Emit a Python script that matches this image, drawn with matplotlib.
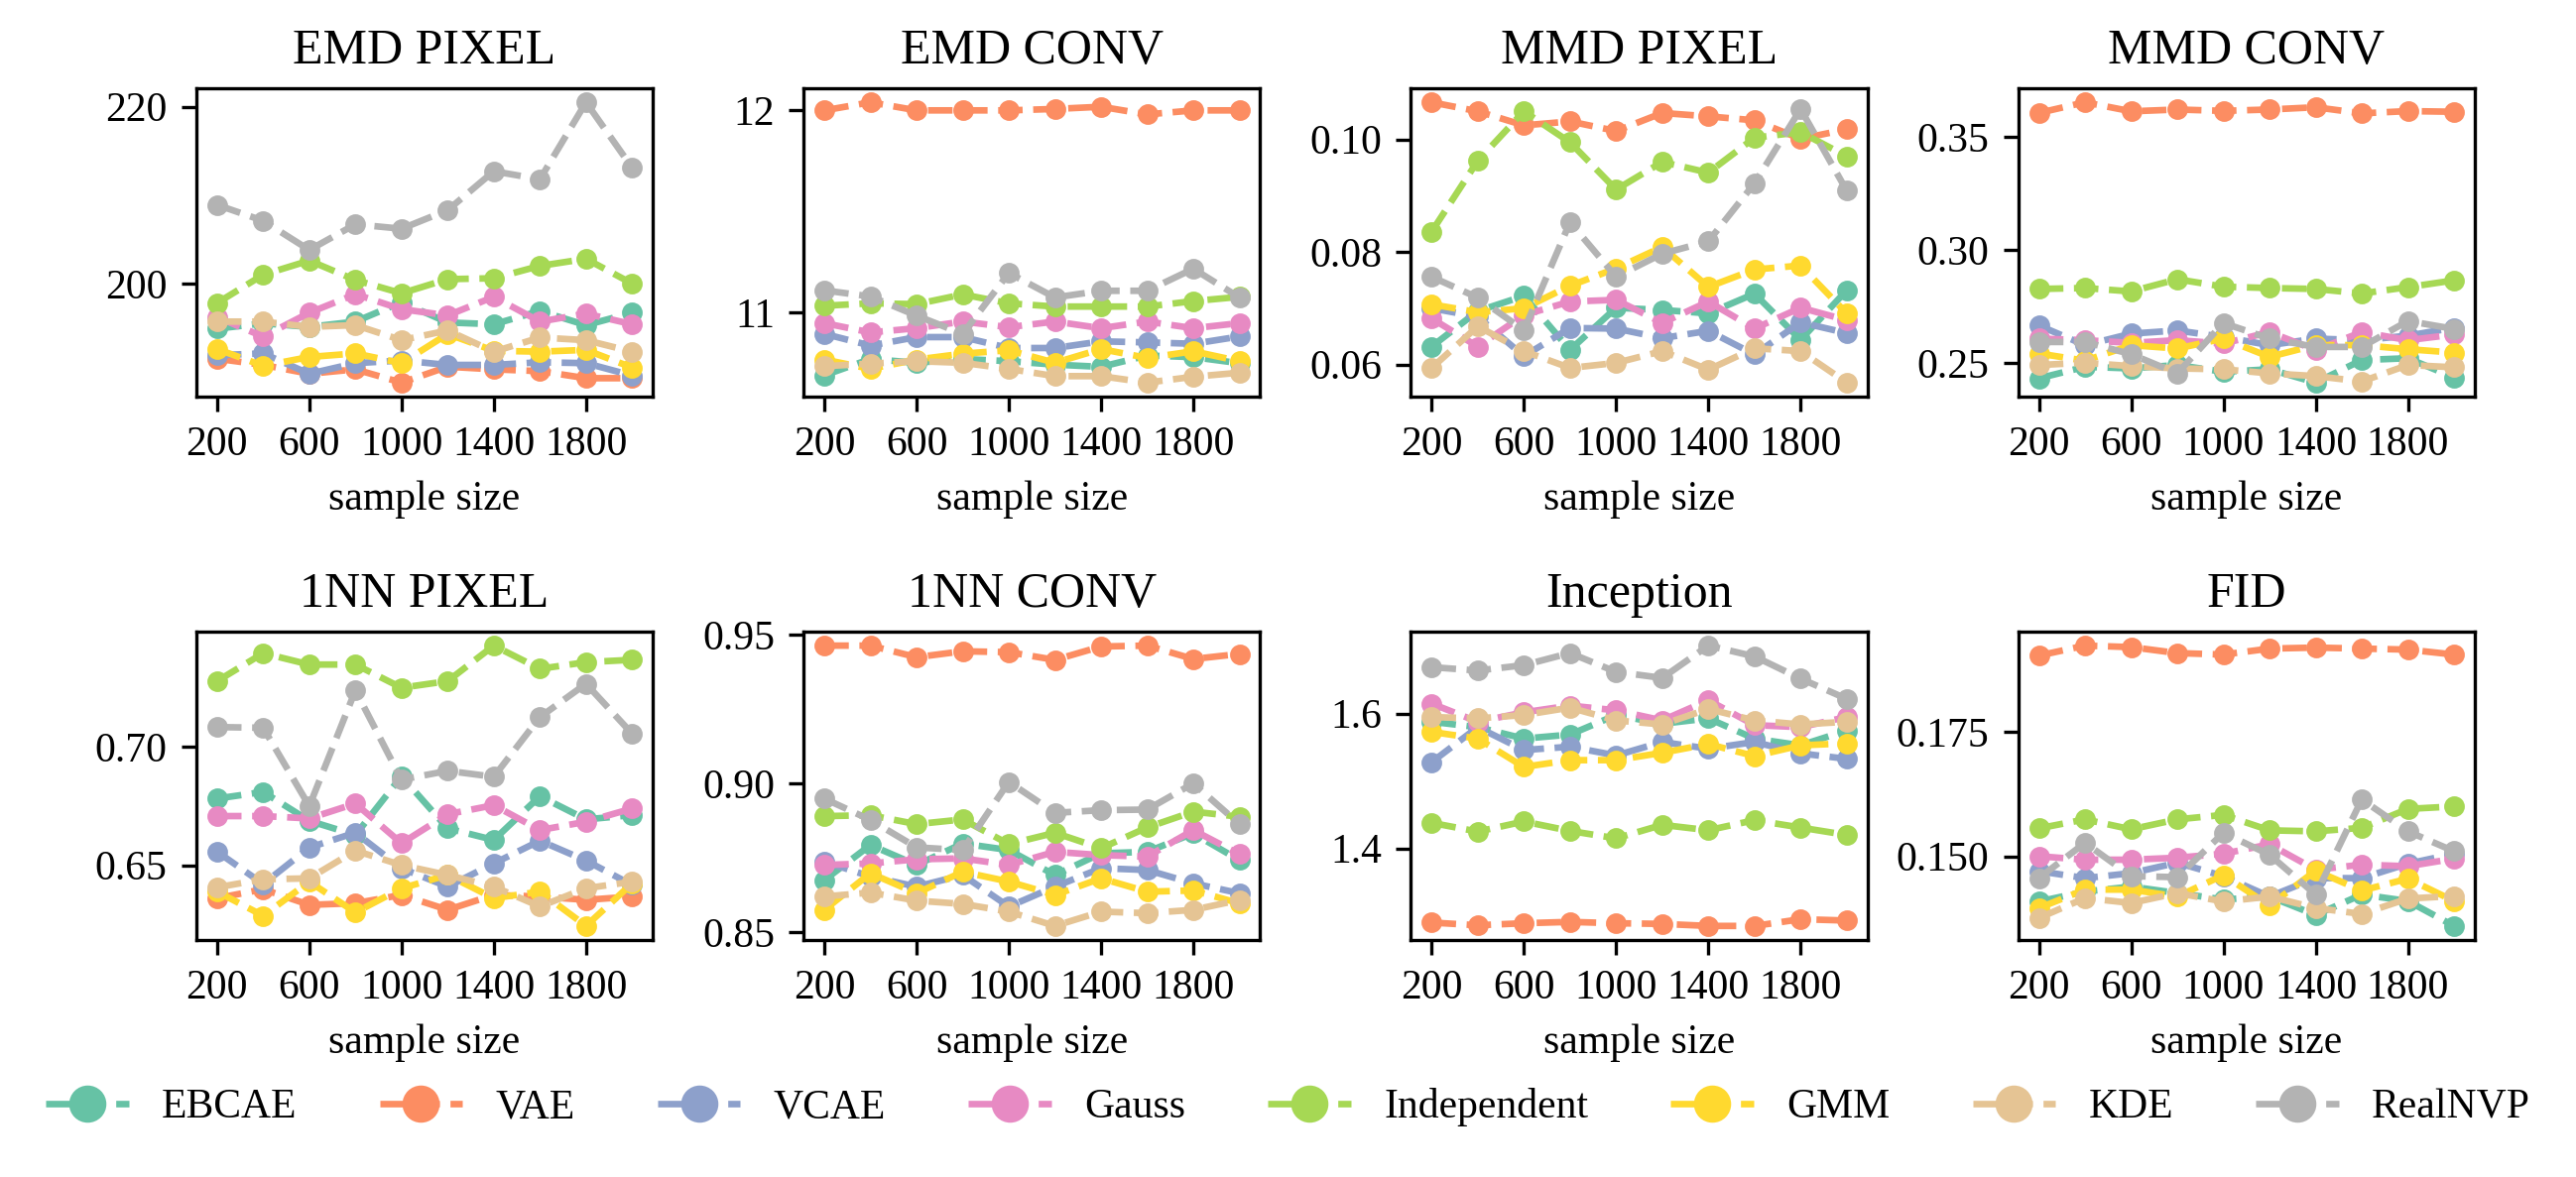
import matplotlib
matplotlib.use('Agg')
import matplotlib.pyplot as plt

plt.rcParams['font.family'] = 'Liberation Serif'
plt.rcParams['font.size'] = 10

sample_sizes = [200, 400, 600, 800, 1000, 1200, 1400, 1600, 1800, 2000]
methods = ['EBCAE', 'VAE', 'VCAE', 'Gauss', 'Independent', 'GMM', 'KDE', 'RealNVP']
colors = ['#66c2a5', '#fc8d62', '#8da0cb', '#e78ac3', '#a6d854', '#ffd92f', '#e5c494', '#b3b3b3']

# one row per method, same order as `methods`
emd_pixel = [
    [194.9, 195.5, 195.1, 195.7, 197.9, 195.6, 195.4, 196.9, 195.3, 196.7],
    [191.5, 190.8, 189.8, 190.3, 188.8, 190.6, 190.3, 190.1, 189.3, 189.3],
    [191.9, 192.1, 189.8, 191.0, 191.3, 190.8, 190.8, 191.1, 191.0, 189.6],
    [196.2, 194.0, 196.7, 198.8, 197.1, 196.4, 198.5, 195.7, 196.6, 195.4],
    [197.8, 201.0, 202.6, 200.4, 198.9, 200.5, 200.6, 202.0, 202.8, 200.0],
    [192.6, 190.7, 191.7, 192.1, 191.0, 194.3, 192.4, 192.3, 192.5, 190.5],
    [195.7, 195.7, 195.1, 195.3, 193.6, 194.7, 192.3, 193.9, 193.6, 192.3],
    [208.9, 207.1, 203.8, 206.7, 206.2, 208.3, 212.7, 211.8, 220.5, 213.1],
]
emd_conv = [
    [10.69, 10.771, 10.752, 10.771, 10.76, 10.743, 10.732, 10.788, 10.78, 10.75],
    [12.0, 12.04, 12.0, 12.0, 12.0, 12.007, 12.018, 11.98, 12.0, 12.0],
    [10.895, 10.837, 10.879, 10.879, 10.825, 10.825, 10.858, 10.853, 10.846, 10.882],
    [10.948, 10.902, 10.923, 10.956, 10.928, 10.956, 10.923, 10.956, 10.923, 10.948],
    [11.034, 11.046, 11.042, 11.09, 11.046, 11.03, 11.03, 11.03, 11.057, 11.078],
    [10.768, 10.722, 10.768, 10.797, 10.814, 10.752, 10.82, 10.776, 10.809, 10.76],
    [10.735, 10.748, 10.76, 10.752, 10.722, 10.686, 10.686, 10.654, 10.683, 10.703],
    [11.11, 11.08, 10.985, 10.895, 11.196, 11.075, 11.108, 11.108, 11.217, 11.075],
]
mmd_pixel = [
    [0.0632, 0.0695, 0.0722, 0.0626, 0.0701, 0.0697, 0.0691, 0.0726, 0.0644, 0.0732],
    [0.1066, 0.1050, 0.1025, 0.1032, 0.1015, 0.1047, 0.1041, 0.1034, 0.1001, 0.1018],
    [0.0700, 0.0685, 0.0615, 0.0665, 0.0664, 0.0647, 0.0660, 0.0618, 0.0675, 0.0656],
    [0.0682, 0.0632, 0.0688, 0.0712, 0.0715, 0.0674, 0.0712, 0.0664, 0.0701, 0.0679],
    [0.0836, 0.0962, 0.1050, 0.0995, 0.0911, 0.0960, 0.0941, 0.1003, 0.1013, 0.0970],
    [0.0707, 0.0693, 0.0700, 0.0740, 0.0771, 0.0809, 0.0738, 0.0769, 0.0776, 0.0691],
    [0.0594, 0.0668, 0.0624, 0.0594, 0.0603, 0.0624, 0.0591, 0.0629, 0.0624, 0.0568],
    [0.0756, 0.0719, 0.0661, 0.0853, 0.0756, 0.0797, 0.0819, 0.0922, 0.1054, 0.0909],
]
mmd_conv = [
    [0.2431, 0.2482, 0.2475, 0.2490, 0.2460, 0.2471, 0.2412, 0.2512, 0.2520, 0.2435],
    [0.3607, 0.3654, 0.3614, 0.3622, 0.3616, 0.3622, 0.3632, 0.3605, 0.3615, 0.3612],
    [0.2665, 0.2578, 0.2629, 0.2643, 0.2614, 0.2578, 0.2607, 0.2600, 0.2620, 0.2655],
    [0.2607, 0.2600, 0.2588, 0.2600, 0.2585, 0.2636, 0.2556, 0.2636, 0.2600, 0.2625],
    [0.2827, 0.2831, 0.2816, 0.2870, 0.2837, 0.2831, 0.2827, 0.2807, 0.2835, 0.2865],
    [0.2541, 0.2509, 0.2578, 0.2563, 0.2607, 0.2526, 0.2578, 0.2578, 0.2560, 0.2545],
    [0.2490, 0.2500, 0.2485, 0.2475, 0.2471, 0.2453, 0.2441, 0.2417, 0.2490, 0.2480],
    [0.2592, 0.2592, 0.2538, 0.2453, 0.2676, 0.2607, 0.2570, 0.2570, 0.2685, 0.2650],
]
nn_pixel = [
    [0.6782, 0.6810, 0.6688, 0.6628, 0.6876, 0.6656, 0.6607, 0.6792, 0.6694, 0.6712],
    [0.6361, 0.6399, 0.6333, 0.6340, 0.6375, 0.6312, 0.6375, 0.6368, 0.6354, 0.6368],
    [0.6558, 0.6421, 0.6575, 0.6638, 0.6487, 0.6410, 0.6508, 0.6604, 0.6520, 0.6417],
    [0.6708, 0.6708, 0.6698, 0.6761, 0.6593, 0.6716, 0.6754, 0.6649, 0.6684, 0.6740],
    [0.7278, 0.7396, 0.7348, 0.7348, 0.7250, 0.7278, 0.7428, 0.7330, 0.7358, 0.7368],
    [0.6389, 0.6287, 0.6431, 0.6301, 0.6403, 0.6459, 0.6361, 0.6389, 0.6244, 0.6424],
    [0.6407, 0.6441, 0.6445, 0.6562, 0.6501, 0.6459, 0.6410, 0.6326, 0.6403, 0.6431],
    [0.7084, 0.7081, 0.6750, 0.7239, 0.6862, 0.6899, 0.6874, 0.7126, 0.7267, 0.7056],
]
nn_conv = [
    [0.8675, 0.8793, 0.8726, 0.8798, 0.8776, 0.8692, 0.8765, 0.8770, 0.8832, 0.8742],
    [0.9463, 0.9463, 0.9424, 0.9444, 0.9441, 0.9415, 0.9460, 0.9463, 0.9418, 0.9435],
    [0.8737, 0.8687, 0.8653, 0.8692, 0.8586, 0.8653, 0.8715, 0.8709, 0.8664, 0.8631],
    [0.8726, 0.8731, 0.8745, 0.8748, 0.8726, 0.8770, 0.8759, 0.8754, 0.8843, 0.8762],
    [0.8890, 0.8893, 0.8863, 0.8879, 0.8796, 0.8834, 0.8782, 0.8852, 0.8905, 0.8888],
    [0.8575, 0.8698, 0.8631, 0.8703, 0.8670, 0.8625, 0.8681, 0.8636, 0.8640, 0.8597],
    [0.8620, 0.8633, 0.8606, 0.8595, 0.8569, 0.8521, 0.8569, 0.8564, 0.8575, 0.8608],
    [0.8949, 0.8877, 0.8785, 0.8776, 0.9005, 0.8901, 0.8910, 0.8912, 0.9000, 0.8863],
]
inception = [
    [1.588, 1.580, 1.563, 1.569, 1.598, 1.585, 1.593, 1.563, 1.553, 1.575],
    [1.290, 1.286, 1.289, 1.291, 1.289, 1.288, 1.285, 1.285, 1.295, 1.293],
    [1.528, 1.580, 1.546, 1.551, 1.538, 1.558, 1.548, 1.558, 1.541, 1.533],
    [1.615, 1.588, 1.602, 1.612, 1.605, 1.590, 1.620, 1.583, 1.580, 1.595],
    [1.438, 1.425, 1.440, 1.426, 1.415, 1.435, 1.427, 1.442, 1.431, 1.420],
    [1.573, 1.563, 1.521, 1.531, 1.531, 1.542, 1.555, 1.537, 1.553, 1.556],
    [1.595, 1.593, 1.598, 1.609, 1.590, 1.584, 1.607, 1.590, 1.584, 1.588],
    [1.669, 1.664, 1.672, 1.690, 1.662, 1.653, 1.701, 1.685, 1.652, 1.622],
]
fid = [
    [0.1409, 0.1429, 0.1439, 0.1426, 0.1413, 0.1419, 0.1382, 0.1423, 0.1410, 0.1360],
    [0.1903, 0.1923, 0.1920, 0.1908, 0.1905, 0.1917, 0.1919, 0.1917, 0.1915, 0.1905],
    [0.1470, 0.1456, 0.1466, 0.1487, 0.1460, 0.1419, 0.1456, 0.1456, 0.1485, 0.1505],
    [0.1500, 0.1493, 0.1493, 0.1497, 0.1505, 0.1524, 0.1473, 0.1483, 0.1480, 0.1495],
    [0.1556, 0.1574, 0.1554, 0.1574, 0.1583, 0.1552, 0.1550, 0.1557, 0.1595, 0.1600],
    [0.1396, 0.1433, 0.1433, 0.1419, 0.1462, 0.1401, 0.1471, 0.1431, 0.1455, 0.1410],
    [0.1376, 0.1416, 0.1406, 0.1426, 0.1409, 0.1419, 0.1396, 0.1384, 0.1415, 0.1420],
    [0.1456, 0.1527, 0.1460, 0.1458, 0.1547, 0.1503, 0.1423, 0.1614, 0.1550, 0.1510],
]

titles = ['EMD PIXEL', 'EMD CONV', 'MMD PIXEL', 'MMD CONV',
          '1NN PIXEL', '1NN CONV', 'Inception', 'FID']
metrics = [emd_pixel, emd_conv, mmd_pixel, mmd_conv, nn_pixel, nn_conv, inception, fid]
yticks = [[200, 220], [11, 12], [0.06, 0.08, 0.10], [0.25, 0.30, 0.35],
          [0.65, 0.70], [0.85, 0.90, 0.95], [1.4, 1.6], [0.150, 0.175]]

fig, axes = plt.subplots(2, 4, figsize=(2597 / 300, 1187 / 300), dpi=300)
fig.subplots_adjust(left=0.0762, right=0.9607, top=0.925, bottom=0.2014,
                    wspace=0.33, hspace=0.762)

for ax, title, data, yt in zip(axes.flat, titles, metrics, yticks):
    for name, col, vals in zip(methods, colors, data):
        ax.plot(sample_sizes, vals, '--o', color=col, lw=1.6, ms=4, label=name)
    ax.set_title(title, fontsize=12)
    ax.set_xlabel('sample size')
    ax.set_xticks([200, 600, 1000, 1400, 1800])
    ax.set_yticks(yt)

handles, labels = axes[0, 0].get_legend_handles_labels()
fig.legend(handles, labels, loc='center', bbox_to_anchor=(0.5, 0.059), ncol=8,
           frameon=False, markerscale=2, handlelength=2.0, columnspacing=2.0)

fig.savefig('out.png', dpi=300)
